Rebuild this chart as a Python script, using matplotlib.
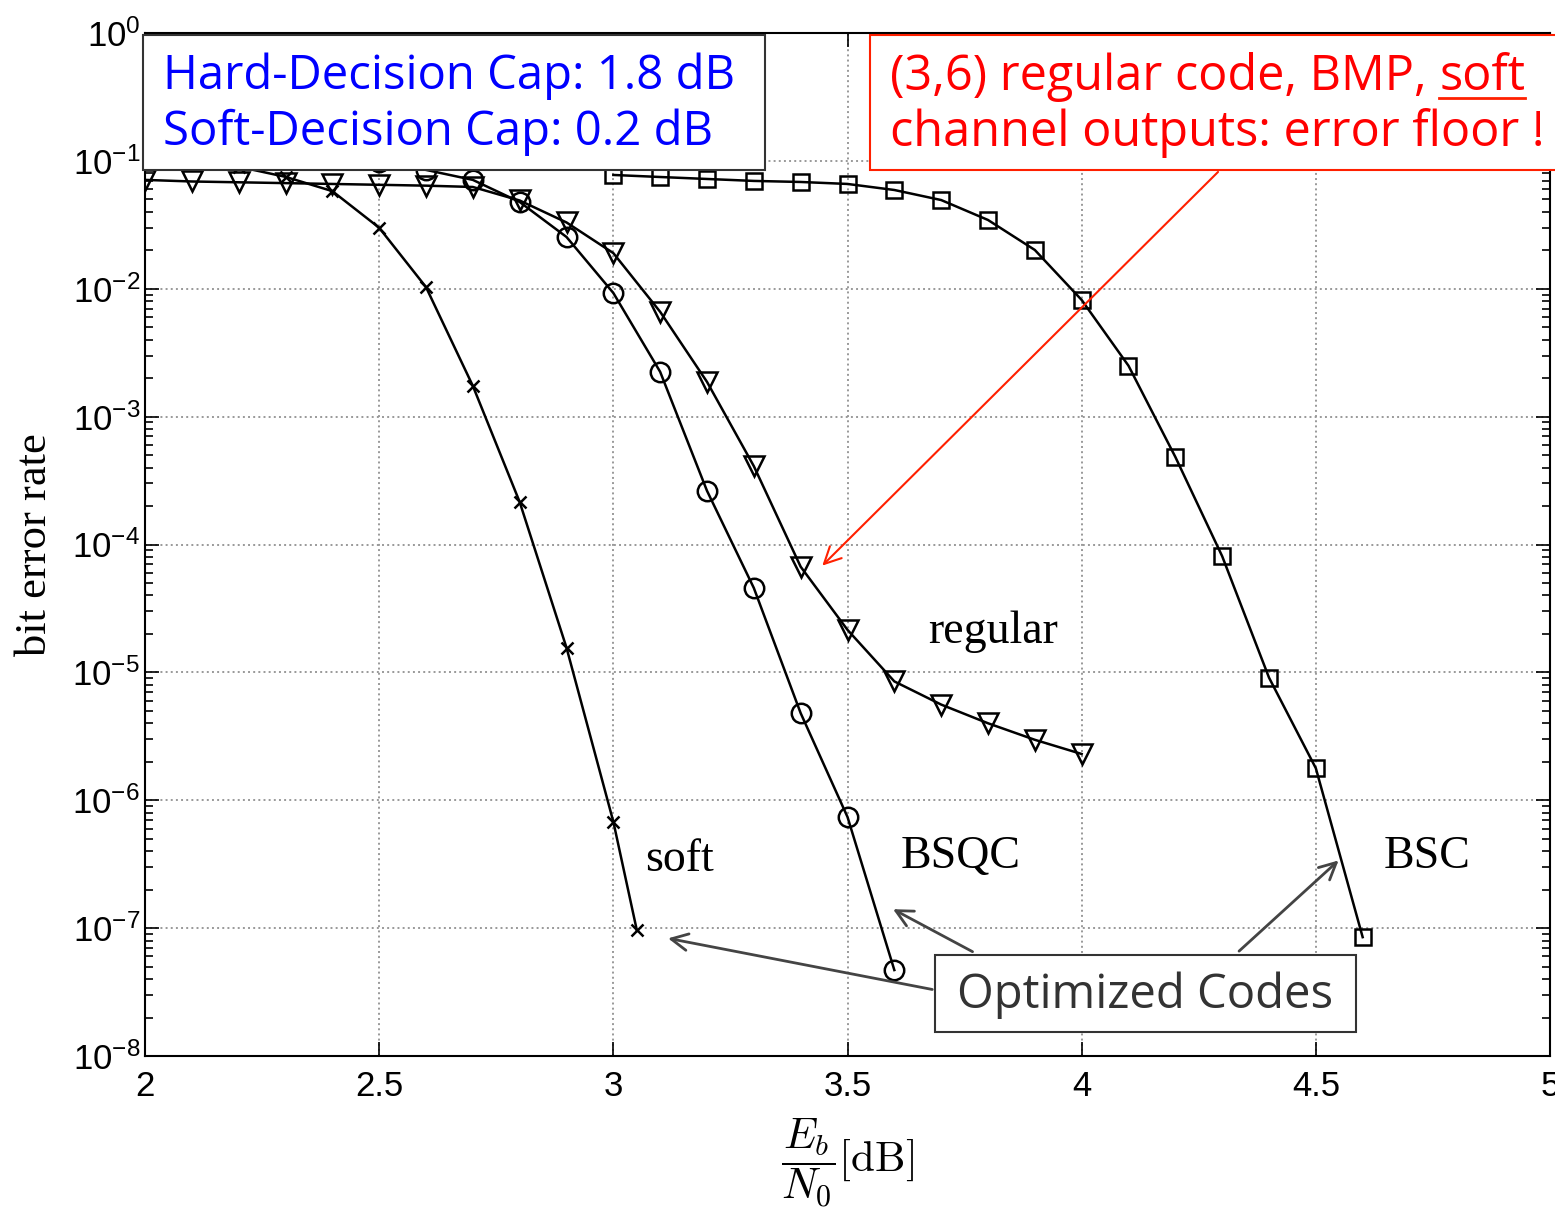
import matplotlib
matplotlib.use("Agg")
import matplotlib.pyplot as plt
from matplotlib.patches import Rectangle
from matplotlib.ticker import LogLocator, FixedLocator, NullFormatter

plt.rcParams['font.family'] = ['Liberation Sans', 'DejaVu Sans']
plt.rcParams['mathtext.fontset'] = 'cm'

# BER curves
soft_x = [2.0, 2.1, 2.2, 2.3, 2.4, 2.5, 2.6, 2.7, 2.8, 2.9, 3.0, 3.05]
soft_y = [0.12, 0.105, 0.09, 0.075, 0.058, 0.030, 0.0103, 1.74e-3, 2.15e-4,
          1.56e-5, 6.8e-7, 9.7e-8]

bsqc_x = [2.0, 2.1, 2.2, 2.3, 2.4, 2.5, 2.6, 2.7, 2.8, 2.9, 3.0, 3.1, 3.2,
          3.3, 3.4, 3.5, 3.6]
bsqc_y = [0.12, 0.118, 0.115, 0.111, 0.105, 0.098, 0.085, 0.071, 0.0477,
          0.0254, 0.00927, 2.24e-3, 2.63e-4, 4.57e-5, 4.8e-6, 7.4e-7, 4.7e-8]

regular_x = [2.0, 2.1, 2.2, 2.3, 2.4, 2.5, 2.6, 2.7, 2.8, 2.9, 3.0, 3.1,
             3.2, 3.3, 3.4, 3.5, 3.6, 3.7, 3.8, 3.9, 4.0]
regular_y = [0.071, 0.069, 0.068, 0.067, 0.066, 0.065, 0.064, 0.0625, 0.049,
             0.033, 0.019, 0.0066, 1.87e-3, 4.1e-4, 6.7e-5, 2.15e-5, 8.5e-6,
             5.6e-6, 4.0e-6, 2.97e-6, 2.3e-6]

bsc_x = [3.0, 3.1, 3.2, 3.3, 3.4, 3.5, 3.6, 3.7, 3.8, 3.9, 4.0, 4.1, 4.2,
         4.3, 4.4, 4.5, 4.6]
bsc_y = [0.0776, 0.0748, 0.0722, 0.0697, 0.0684, 0.066, 0.0592, 0.0494,
         0.0345, 0.0201, 0.00817, 2.5e-3, 4.84e-4, 8.1e-5, 9.1e-6, 1.78e-6,
         8.5e-8]

x_ticks = [2, 2.5, 3, 3.5, 4, 4.5, 5]
x_ticklabels = ['2', '2.5', '3', '3.5', '4', '4.5', '5']
y_exps = [0, -1, -2, -3, -4, -5, -6, -7, -8]

W, H = 1555, 1208


def fp(px, py):
    # reference pixel -> figure fraction
    return (px / W, 1 - py / H)


fig = plt.figure(figsize=(15.55, 12.08), dpi=100)
ax = fig.add_axes([145 / W, 1 - 1056 / H, 1405 / W, 1023 / H])

kw = dict(color='black', lw=1.8, mfc='none', mec='black', mew=1.8)
ax.plot(soft_x, soft_y, marker='x', ms=8, **kw)
ax.plot(bsqc_x, bsqc_y, marker='o', ms=14, **kw)
ax.plot(regular_x, regular_y, marker='v', ms=14, **kw)
ax.plot(bsc_x, bsc_y, marker='s', ms=11, **kw)

ax.set_yscale('log')
ax.set_xlim(2, 5)
ax.set_ylim(1e-8, 1)
ax.xaxis.set_major_locator(FixedLocator(x_ticks))
ax.set_xticklabels(x_ticklabels)
ax.set_yticks([10.0 ** e for e in y_exps])
ax.set_yticklabels([r'$\mathregular{10^{%d}}$' % e for e in y_exps])
ax.yaxis.set_minor_locator(LogLocator(base=10, subs=range(2, 10), numticks=20))
ax.yaxis.set_minor_formatter(NullFormatter())
ax.tick_params(which='both', direction='in', top=True, right=True,
               labelsize=25, width=1.2)
ax.tick_params(axis='x', pad=10)
ax.tick_params(which='major', length=10)
ax.tick_params(which='minor', length=6)
ax.grid(True, which='major', ls=':', color='#999999', lw=1.4)
for s in ax.spines.values():
    s.set_linewidth(1.5)

ax.set_ylabel('bit error rate', family='Liberation Serif', fontsize=32)
ax.yaxis.set_label_coords(-0.064, 0.5)
ax.set_xlabel(r'$\dfrac{E_b}{N_0}[\mathrm{dB}]$', fontsize=31, labelpad=10)

serif = dict(family='Liberation Serif', fontsize=33, va='center')
ax.text(3.068, 3.4e-7, 'soft', **serif)
ax.text(3.613, 3.6e-7, 'BSQC', **serif)
ax.text(4.645, 3.6e-7, 'BSC', **serif)
ax.text(3.673, 2.07e-5, 'regular', **serif)

# annotation boxes
box_font = ['Open Sans', 'DejaVu Sans']
x0, y0 = fp(143, 170)
fig.patches.append(Rectangle((x0, y0), 622 / W, 135 / H, transform=fig.transFigure,
                             fc='white', ec='#333333', lw=1.5, zorder=5))
fig.text(*fp(163, 76), 'Hard-Decision Cap: 1.8 dB', color='#0000ff',
         fontsize=34, family=box_font, va='center', zorder=6)
fig.text(*fp(163, 132), 'Soft-Decision Cap: 0.2 dB', color='#0000ff',
         fontsize=34, family=box_font, va='center', zorder=6)

x0, y0 = fp(870, 170)
fig.patches.append(Rectangle((x0, y0), 690 / W, 135 / H, transform=fig.transFigure,
                             fc='white', ec='#ff2000', lw=1.5, zorder=5))
t1 = fig.text(*fp(890, 77), '(3,6) regular code, BMP, ', color='#ff0000',
              fontsize=35, family=box_font, va='center', zorder=6)
fig.text(*fp(890, 133), 'channel outputs: error floor !', color='#ff0000',
         fontsize=35, family=box_font, va='center', zorder=6)
fig.canvas.draw()
bb = t1.get_window_extent()
t2 = fig.text(bb.x1 / W, fp(0, 77)[1], 'soft', color='#ff0000', fontsize=35,
              family=box_font, va='center', zorder=6)
fig.canvas.draw()
bb2 = t2.get_window_extent()
fig.lines.append(plt.Line2D([bb2.x0 / W, bb2.x1 / W], [fp(0, 98)[1]] * 2,
                            transform=fig.transFigure, color='#ff2000', lw=2,
                            zorder=6))

x0, y0 = fp(935, 1032)
fig.patches.append(Rectangle((x0, y0), 421 / W, 77 / H, transform=fig.transFigure,
                             fc='white', ec='#333333', lw=1.5, zorder=5))
fig.text(*fp(1145, 995), 'Optimized Codes', color='#333333', fontsize=34,
         family=box_font, ha='center', va='center', zorder=6)

# arrows
ax.annotate('', xy=(3.442, 6.6e-5), xycoords='data',
            xytext=fp(1220, 170), textcoords='figure fraction',
            arrowprops=dict(arrowstyle='->', color='#ff2000', lw=1.5,
                            mutation_scale=30), zorder=4)
gray = dict(arrowstyle='->', color='#444444', lw=2, mutation_scale=30)
ax.annotate('', xy=(3.111, 8.4e-8), xytext=fp(935, 990),
            textcoords='figure fraction', arrowprops=gray)
ax.annotate('', xy=(3.592, 1.44e-7), xytext=fp(975, 953),
            textcoords='figure fraction', arrowprops=gray)
ax.annotate('', xy=(4.553, 3.5e-7), xytext=fp(1237, 953),
            textcoords='figure fraction', arrowprops=gray)

fig.savefig('out.png', dpi=100)
